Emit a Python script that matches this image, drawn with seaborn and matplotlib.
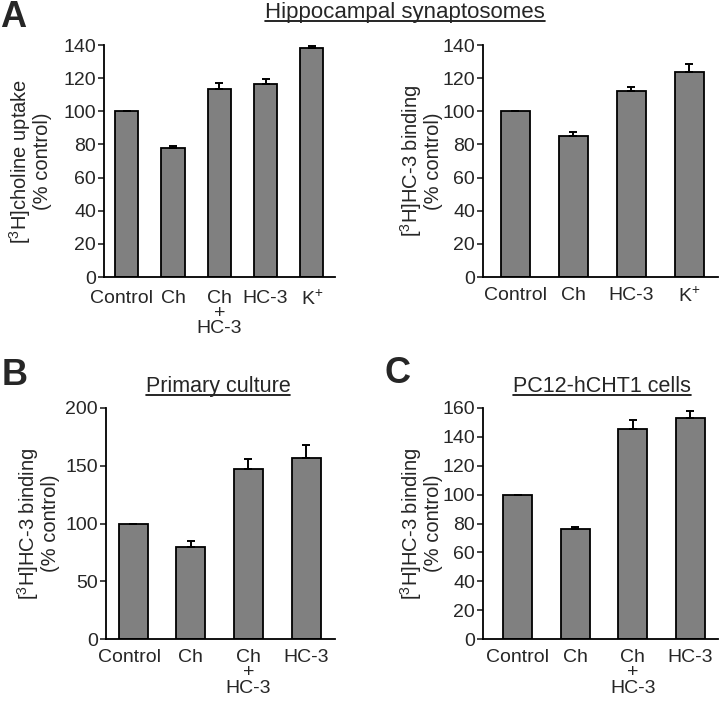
import numpy as np
import pandas as pd
import matplotlib
matplotlib.use('Agg')
import matplotlib.pyplot as plt
import matplotlib.transforms as mtrans
from matplotlib.lines import Line2D
import seaborn as sns

# 데이터
a1_labels = ['Control', 'Ch', 'Ch\n+\nHC-3', 'HC-3', 'K$^{+}$']
a1_means = [100, 77.8, 113.3, 116.7, 138.4]
a1_errs = [0, 1.5, 3.5, 3.0, 1.2]

a2_labels = ['Control', 'Ch', 'HC-3', 'K$^{+}$']
a2_means = [100, 85.1, 112.3, 123.5]
a2_errs = [0, 2.4, 2.6, 5.0]

b_labels = ['Control', 'Ch', 'Ch\n+\nHC-3', 'HC-3']
b_means = [100, 79.8, 147.6, 156.8]
b_errs = [0, 4.9, 8.6, 10.9]

c_labels = ['Control', 'Ch', 'Ch\n+\nHC-3', 'HC-3']
c_means = [100, 76.4, 145.2, 153.0]
c_errs = [0, 1.2, 6.2, 4.7]

FS = 14

sns.set_style('ticks')
plt.rcParams['font.family'] = ['Liberation Sans', 'DejaVu Sans']
plt.rcParams['mathtext.fontset'] = 'custom'
plt.rcParams['mathtext.rm'] = 'Liberation Sans'
plt.rcParams['mathtext.it'] = 'Liberation Sans:italic'
plt.rcParams['mathtext.bf'] = 'Liberation Sans:bold'
plt.rcParams['mathtext.default'] = 'regular'

fig = plt.figure(figsize=(7.2, 7.01), dpi=100)
W, H = 720, 701


def px_axes(x0, x1, ytop, ybot):
    return fig.add_axes([x0 / W, 1 - ybot / H, (x1 - x0) / W, (ybot - ytop) / H])


def draw_panel(ax, labels, means, errs, ymax, step, ylabel, xlim, lab_x, xpad, shift0=0):
    df = pd.DataFrame({'cond': labels, 'val': means})
    sns.barplot(data=df, x='cond', y='val', ax=ax, color='#808080', saturation=1,
                edgecolor='black', linewidth=1.3, width=0.5, errorbar=None)
    ax.errorbar(np.arange(len(means)), means, yerr=[np.zeros(len(errs)), errs],
                fmt='none', ecolor='black', elinewidth=1.4, capsize=2.6, capthick=1.4)
    ax.set_ylim(0, ymax)
    ax.set_yticks(np.arange(0, ymax + 1, step))
    ax.set_xlim(*xlim)
    ax.set_xlabel('')
    ax.set_ylabel(ylabel, fontsize=FS + 0.5, linespacing=1.0)
    ax.yaxis.set_label_coords(lab_x, 0.5)
    ax.tick_params(axis='y', direction='out', length=4.5, width=1.2, pad=1.2, labelsize=FS)
    ax.tick_params(axis='x', length=0, pad=xpad, labelsize=FS)
    for t in ax.get_xticklabels():
        t.set_linespacing(0.88)
    if shift0:
        lab = ax.get_xticklabels()[0]
        lab.set_transform(lab.get_transform() +
                          mtrans.ScaledTranslation(shift0 / 100, 0, fig.dpi_scale_trans))
    for s in ['left', 'bottom']:
        ax.spines[s].set_linewidth(1.3)
        ax.spines[s].set_color('black')
    sns.despine(ax=ax)


ax1 = px_axes(104, 335, 45, 277)
draw_panel(ax1, a1_labels, a1_means, a1_errs, 140, 20,
           '[$^{3}$H]choline uptake\n(% control)', (-0.49, 4.5), -0.225, 9, shift0=-5)

ax2 = px_axes(483, 718, 45, 277)
draw_panel(ax2, a2_labels, a2_means, a2_errs, 140, 20,
           '[$^{3}$H]HC-3 binding\n(% control)', (-0.56, 3.5), -0.17, 7)

ax3 = px_axes(106, 335, 408, 639)
draw_panel(ax3, b_labels, b_means, b_errs, 200, 50,
           '[$^{3}$H]HC-3 binding\n(% control)', (-0.47, 3.5), -0.20, 7, shift0=-4)

ax4 = px_axes(483, 718, 408, 639)
draw_panel(ax4, c_labels, c_means, c_errs, 160, 20,
           '[$^{3}$H]HC-3 binding\n(% control)', (-0.6, 3.48), -0.17, 7)

# 패널 문자
for letter, x, y in [('A', 0, 27), ('B', 2, 385), ('C', 384, 383)]:
    fig.text(x / W, 1 - y / H, letter, fontsize=26, fontweight='bold', va='baseline', ha='left')

# 밑줄 제목
titles = [('Hippocampal synaptosomes', 405, 18, 16),
          ('Primary culture', 218, 392, 15.5),
          ('PC12-hCHT1 cells', 602, 392, 15.5)]
title_objs = []
for txt, x, y, fs in titles:
    t = fig.text(x / W, 1 - y / H, txt, fontsize=fs, ha='center', va='baseline')
    title_objs.append((t, y))

fig.canvas.draw()
renderer = fig.canvas.get_renderer()
for t, y in title_objs:
    bb = t.get_window_extent(renderer)
    yl = 1 - (y + 3) / H
    fig.add_artist(Line2D([bb.x0 / W, bb.x1 / W], [yl, yl], transform=fig.transFigure,
                          color='black', linewidth=1.2))

fig.savefig('out.png', dpi=100)
